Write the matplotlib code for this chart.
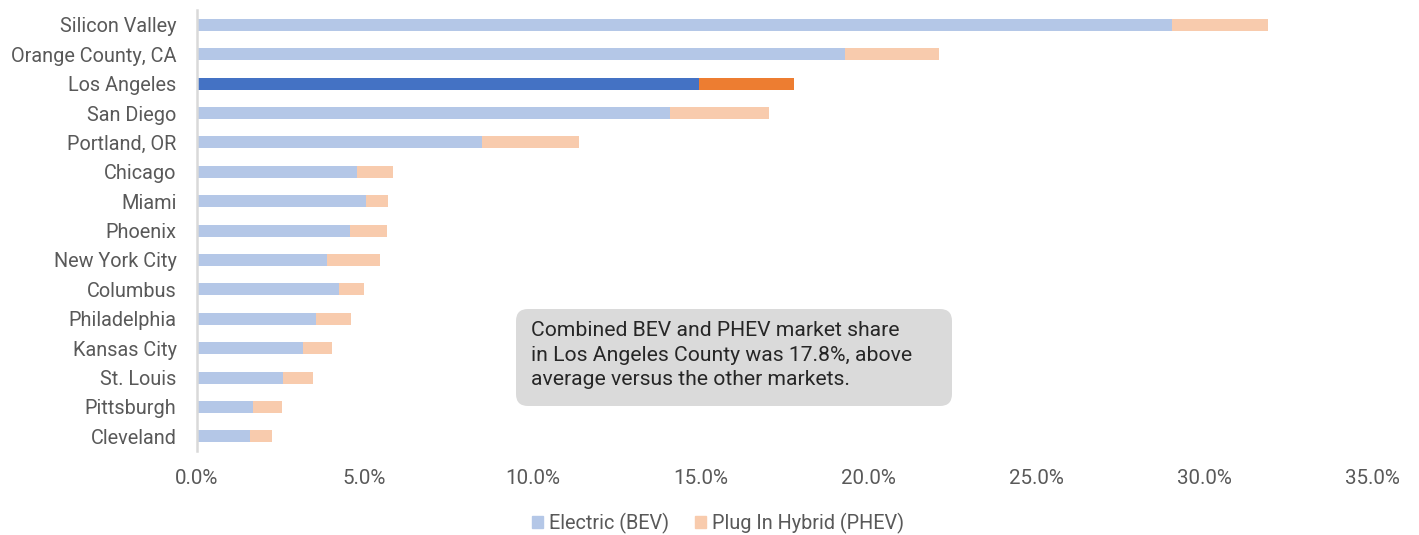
import matplotlib.pyplot as plt
from matplotlib.patches import FancyBboxPatch, Patch
from matplotlib.transforms import IdentityTransform
from matplotlib.ticker import FuncFormatter

plt.rcParams['font.family'] = ['Roboto', 'DejaVu Sans']

markets = ['Silicon Valley', 'Orange County, CA', 'Los Angeles', 'San Diego', 'Portland, OR',
           'Chicago', 'Miami', 'Phoenix', 'New York City', 'Columbus', 'Philadelphia',
           'Kansas City', 'St. Louis', 'Pittsburgh', 'Cleveland']
bev = [29.03, 19.29, 14.95, 14.09, 8.51, 4.77, 5.03, 4.56, 3.87, 4.23, 3.54, 3.16, 2.56, 1.67, 1.58]
phev = [2.88, 2.80, 2.85, 2.94, 2.87, 1.07, 0.67, 1.11, 1.60, 0.76, 1.06, 0.88, 0.90, 0.86, 0.65]
highlight = 'Los Angeles'
note = ("Combined BEV and PHEV market share\n"
        "in Los Angeles County was 17.8%, above\n"
        "average versus the other markets.")

grey = '#595959'
bev_c = ['#4472C4' if m == highlight else '#B4C7E7' for m in markets]
phev_c = ['#ED7D31' if m == highlight else '#F8CBAD' for m in markets]

fig = plt.figure(figsize=(14.19, 5.35), dpi=100)
ax = fig.add_axes([0.1386, 0.157, 0.967 - 0.1386, 0.981 - 0.157])

y = range(len(markets))
ax.barh(y, bev, height=0.41, color=bev_c)
ax.barh(y, phev, left=bev, height=0.41, color=phev_c)

ax.set_xlim(0, 35)
ax.set_ylim(len(markets) - 0.5, -0.5)
ax.set_xticks([0, 5, 10, 15, 20, 25, 30, 35])
ax.xaxis.set_major_formatter(FuncFormatter(lambda v, p: f'{v:.1f}%'))
ax.set_yticks(list(y))
ax.set_yticklabels(markets)
ax.tick_params(axis='y', length=0, labelsize=14.3, colors=grey, pad=14.5)
ax.tick_params(axis='x', length=0, labelsize=14.8, colors=grey, pad=13)
for s in ['top', 'right', 'bottom']:
    ax.spines[s].set_visible(False)
ax.spines['left'].set_color('#D9D9D9')
ax.spines['left'].set_linewidth(1.8)

handles = [Patch(color='#B4C7E7', label='Electric (BEV)'),
           Patch(color='#F8CBAD', label='Plug In Hybrid (PHEV)')]
fig.legend(handles=handles, loc='center', bbox_to_anchor=(0.506, 0.022), ncol=2,
           frameon=False, fontsize=14.3, labelcolor=grey, handlelength=0.55,
           handleheight=0.55, handletextpad=0.3, columnspacing=1.3)

box = FancyBboxPatch((516, 535 - 406), 436, 97, boxstyle='round,pad=0,rounding_size=12',
                     transform=IdentityTransform(), facecolor='#DADADA', edgecolor='none')
fig.add_artist(box)
fig.text(531, 535 - 321, note, transform=IdentityTransform(), va='top', ha='left',
         fontsize=15.2, color='#262626', linespacing=1.38)

fig.savefig('out.png', dpi=100)
